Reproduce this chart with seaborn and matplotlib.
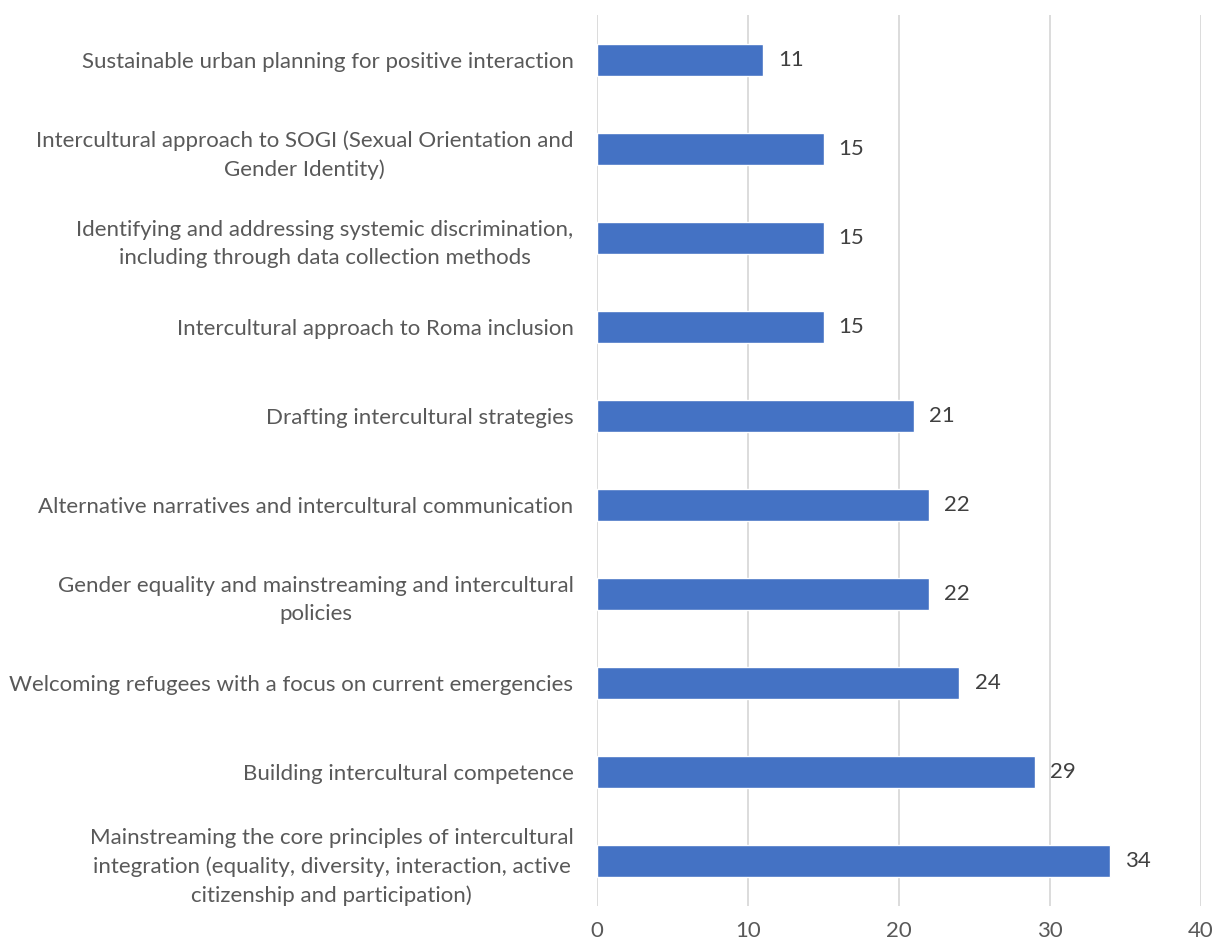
import matplotlib
matplotlib.use("Agg")
import matplotlib.pyplot as plt
import seaborn as sns
import pandas as pd

categories = [
    "Sustainable urban planning for positive interaction",
    "Intercultural approach to SOGI (Sexual Orientation and\nGender Identity)",
    "Identifying and addressing systemic discrimination,\nincluding through data collection methods",
    "Intercultural approach to Roma inclusion",
    "Drafting intercultural strategies",
    "Alternative narratives and intercultural communication",
    "Gender equality and mainstreaming and intercultural\npolicies",
    "Welcoming refugees with a focus on current emergencies",
    "Building intercultural competence",
    "Mainstreaming the core principles of intercultural\nintegration (equality, diversity, interaction, active\ncitizenship and participation)",
]
values = [11, 15, 15, 15, 21, 22, 22, 24, 29, 34]
x_ticks = [0, 10, 20, 30, 40]

sns.set_theme(style="white")
plt.rcParams['font.family'] = ['Lato', 'DejaVu Sans']

df = pd.DataFrame({"cat": categories, "val": values})

fig = plt.figure(figsize=(12.13, 9.47), dpi=100)
ax = fig.add_axes([597/1213, 1-905.5/947, (1201-597)/1213, (905.5-15.5)/947])

sns.barplot(data=df, y="cat", x="val", orient="h", color="#4472C4",
            width=0.36, saturation=1, ax=ax)

ax.set_xlim(0, 40)
ax.set_xticks(x_ticks)
ax.set_xticklabels([str(t) for t in x_ticks])
ax.set_ylim(len(categories)-0.5, -0.5)
ax.xaxis.grid(True, color="#D9D9D9", linewidth=1.3)
ax.set_axisbelow(True)
for s in ax.spines.values():
    s.set_visible(False)
ax.set_xlabel("")
ax.set_ylabel("")
ax.tick_params(axis="x", length=0, pad=11, labelsize=16, labelcolor="#595959")
ax.tick_params(axis="y", length=0, pad=17, labelsize=16, labelcolor="#595959")
for lbl in ax.get_yticklabels():
    lbl.set_multialignment("center")
    lbl.set_linespacing(1.5)

for i, v in enumerate(values):
    ax.text(v + 1.0, i, str(v), va="center", ha="left", fontsize=16, color="#404040")

fig.savefig("out.png", dpi=100)
